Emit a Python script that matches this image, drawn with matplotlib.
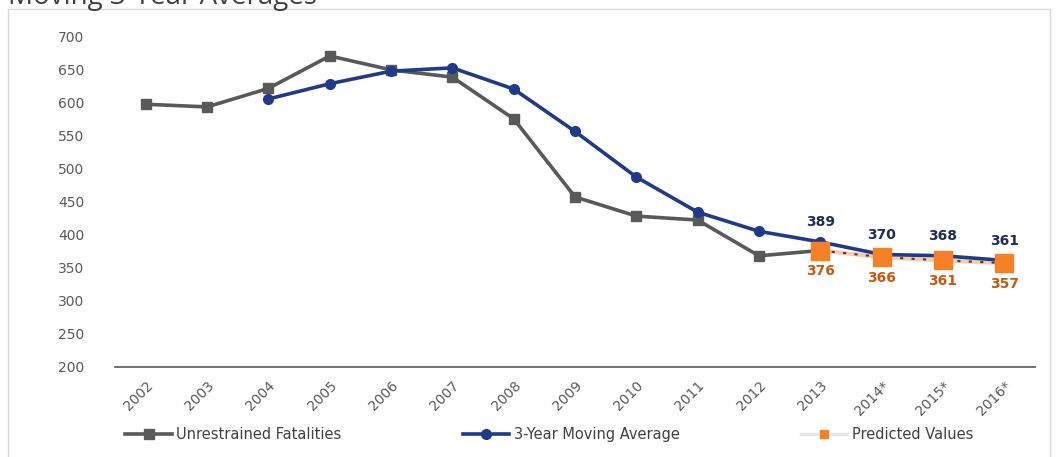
from matplotlib import pyplot as plt
from matplotlib.patches import Rectangle
import numpy as np

years = ['2002', '2003', '2004', '2005', '2006', '2007', '2008', '2009', '2010',
         '2011', '2012', '2013', '2014*', '2015*', '2016*']
unrestrained = [597, 593, 621, 670, 649, 638, 575, 457, 428, 422, 368, 376]
moving_avg = [605, 628, 647, 652, 620, 556, 487, 434, 405, 389, 370, 368, 361]
predicted = [376, 366, 361, 357]

x = np.arange(len(years))
x_unr = x[:len(unrestrained)]
x_avg = x[2:2 + len(moving_avg)]
x_pred = x[11:11 + len(predicted)]

fig = plt.figure(figsize=(10.56, 4.57), dpi=100)
fig.patches.append(Rectangle((0.008, -0.01), 0.986, 0.99, transform=fig.transFigure,
                             fill=False, edgecolor='#d9d9d9', linewidth=1))
# title is cropped at the top edge in the original
fig.text(0.008, 1.006, 'Moving 3-Year Averages', fontsize=20, color='#404040',
         va='center', ha='left', family='Open Sans')

ax = fig.add_axes([0.109, 0.197, 0.871, 0.724])

ax.plot(x_unr, unrestrained, color='#595959', lw=2.6, marker='s', ms=7,
        label='Unrestrained Fatalities', zorder=3)
ax.plot(x_avg, moving_avg, color='#1f3a8a', lw=2.6, marker='o', ms=7,
        label='3-Year Moving Average', zorder=4)
ax.plot(x_pred, predicted, color='#f8cbad', lw=3, zorder=2)
ax.plot(x_pred, predicted, color='#404040', lw=1.5, ls=(0, (1.5, 4)), zorder=2)
ax.plot(x_pred, predicted, color='#f58025', lw=0, marker='s', ms=13, zorder=5)
# legend proxy
ax.plot([], [], color='#e6e6e6', lw=2.5, ls='-', marker='s', ms=6, mfc='#f58025',
        mec='#f58025', label='Predicted Values')

for xi, v in zip(x[11:], moving_avg[-4:]):
    ax.annotate(str(v), (xi, v), xytext=(0, 9), textcoords='offset points',
                ha='center', va='bottom', fontsize=10, fontweight='bold', color='#1f2d5a')
for xi, v in zip(x_pred, predicted):
    ax.annotate(str(v), (xi, v), xytext=(0, -10), textcoords='offset points',
                ha='center', va='top', fontsize=10, fontweight='bold', color='#c55a11')

ax.set_xlim(-0.5, 14.5)
ax.set_ylim(200, 700)
ax.set_yticks(np.arange(200, 701, 50))
ax.set_xticks(x)
ax.set_xticklabels(years, rotation=45, ha='right', rotation_mode='anchor')
ax.tick_params(axis='both', length=0, labelsize=10, labelcolor='#595959')
ax.tick_params(axis='y', pad=22)
ax.tick_params(axis='x', pad=8)
for s in ['top', 'right', 'left']:
    ax.spines[s].set_visible(False)
ax.spines['bottom'].set_color('#595959')
ax.spines['bottom'].set_linewidth(1.2)

fig.legend(loc='center', bbox_to_anchor=(0.52, 0.05), ncol=3, frameon=False,
           fontsize=10.5, labelcolor='#404040', columnspacing=8.3, handlelength=3.2,
           handletextpad=0.3)

fig.savefig('out.png', dpi=100)
